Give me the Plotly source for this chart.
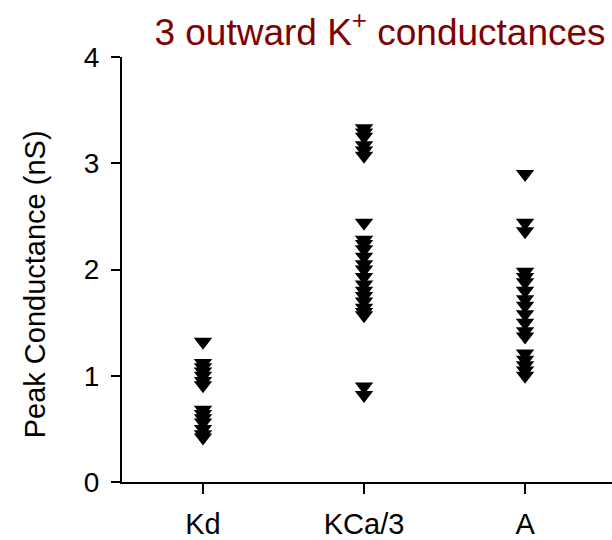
import plotly.graph_objects as go

# Peak outward K+ conductances (nS) per current type
categories = ["Kd", "KCa/3", "A"]
kd_values = [1.32, 1.12, 1.08, 1.04, 1.00, 0.95, 0.91,
             0.68, 0.64, 0.60, 0.56, 0.50, 0.45, 0.42]
kca_values = [3.33, 3.29, 3.25, 3.17, 3.12, 3.07,
              2.44, 2.28, 2.24, 2.19, 2.12, 2.05, 2.00, 1.93, 1.86,
              1.80, 1.75, 1.70, 1.64, 1.60, 1.57,
              0.90, 0.82]
a_values = [2.90, 2.44, 2.36,
            1.98, 1.93, 1.88, 1.80, 1.72, 1.66, 1.58, 1.50, 1.42, 1.37,
            1.21, 1.15, 1.10, 1.05, 1.00]
y_ticks = [0, 1, 2, 3, 4]

groups = [kd_values, kca_values, a_values]

fig = go.Figure()
for i, vals in enumerate(groups):
    fig.add_trace(go.Scatter(
        x=[i] * len(vals),
        y=vals,
        mode="markers",
        marker=dict(symbol="triangle-down", size=16, color="black",
                    line=dict(width=0)),
        showlegend=False,
        hoverinfo="y",
    ))

font_family = "Liberation Sans, Arial, sans-serif"

fig.update_layout(
    width=612,
    height=540,
    plot_bgcolor="white",
    paper_bgcolor="white",
    margin=dict(l=122, r=0, t=57, b=53),
    font=dict(family=font_family, size=29, color="black"),
    title=dict(
        text="3 outward K<sup>+</sup> conductances",
        font=dict(family=font_family, size=37, color="#800000"),
        x=380 / 612, xanchor="center", xref="container",
        y=0.965, yanchor="top", yref="container",
    ),
    annotations=[dict(
        text="Peak Conductance (nS)",
        textangle=-90,
        xref="paper", yref="paper",
        x=(35 - 122) / 490, y=(487 - 287) / 430,
        xanchor="center", yanchor="middle",
        showarrow=False,
        font=dict(family=font_family, size=29, color="black"),
    )],
)

fig.update_xaxes(
    range=[-0.503, 2.54],
    tickvals=[0, 1, 2],
    ticktext=categories,
    showline=True, linecolor="black", linewidth=2,
    ticks="outside", ticklen=10, tickwidth=2, tickcolor="black",
    showgrid=False, zeroline=False,
    tickfont=dict(size=29),
    ticklabelstandoff=5,
)

fig.update_yaxes(
    range=[0, 4],
    tickvals=y_ticks,
    ticktext=[str(t) for t in y_ticks],
    showline=True, linecolor="black", linewidth=2,
    ticks="outside", ticklen=9, tickwidth=2, tickcolor="black",
    showgrid=False, zeroline=False,
    tickfont=dict(size=28),
    ticklabelstandoff=6,
)

fig.write_html("out.html")
